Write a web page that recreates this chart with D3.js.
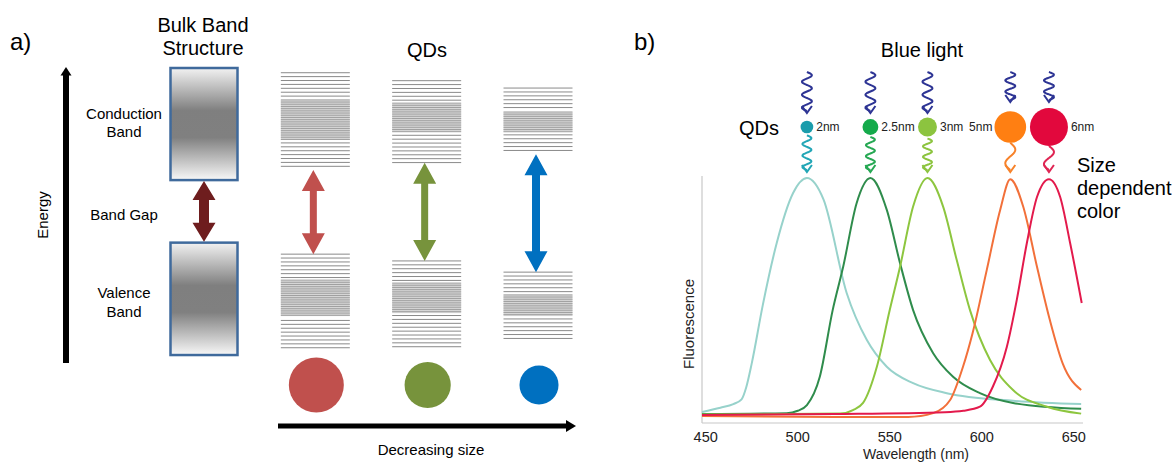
<!DOCTYPE html>
<html>
<head>
<meta charset="utf-8">
<script src="https://cdn.jsdelivr.net/npm/d3@7"></script>
<style>
body { margin: 0; background: #fff; }
svg { display: block; font-family: "Liberation Sans", Arial, sans-serif; }
</style>
</head>
<body>
<div id="chart"></div>
<script>
// ===== 数据 =====
// a) 能带结构，能量单位 0..100（底部到顶部）
const columns = ["bulk", "large", "medium", "small"];
const bulkConduction = [62, 100];
const bulkValence = [2.7, 40.8];
const qdConduction = [[65.4, 98.4], [67.9, 95.7], [70.8, 93.2]];
const qdConductionDense = [[75.6, 89.2], [78.3, 88.1], [78.3, 85.1]];
const qdValence = [[4.2, 36.9], [5.5, 34.6], [8.1, 30.8]];
const qdValenceDense = [[15.9, 28.1], [16.9, 27.1], [15.9, 23.1]];
const qdRelSize = [1.0, 0.84, 0.71];

// b) 荧光光谱
const qdLabels = ["2nm", "2.5nm", "3nm", "5nm", "6nm"];
const qdDiameter = [2, 2.5, 3, 5, 6];
const peakWavelength = [505, 539.5, 570.5, 615.5, 636.5];
const xTicks = [450, 500, 550, 600, 650];

const spectrum2nm = [[448, 0.017], [458, 0.035], [465, 0.05], [469.5, 0.07], [472, 0.12], [475, 0.22], [481, 0.465],
  [488.6, 0.727], [497.5, 0.937], [505, 1.0], [514, 0.91], [526.6, 0.517], [537.5, 0.32], [548.4, 0.207],
  [562.7, 0.138], [581, 0.096], [617, 0.064], [654, 0.05]];
const spectrum25nm = [[448, 0.008], [494, 0.012], [500, 0.022], [505, 0.046], [512, 0.165], [519, 0.445], [524.7, 0.627],
  [532, 0.894], [539.5, 1.0], [548.4, 0.866], [555.6, 0.642], [562.7, 0.445], [573.6, 0.264],
  [584.4, 0.165], [599, 0.096], [617, 0.055], [654, 0.03]];
const spectrum3nm = [[448, 0.006], [523, 0.01], [530, 0.025], [535.5, 0.055], [543, 0.207], [550, 0.445], [555.6, 0.627],
  [562.7, 0.88], [570.5, 1.0], [579, 0.88], [586.4, 0.655], [593.6, 0.445], [604.5, 0.235],
  [617, 0.109], [635.5, 0.039], [654, 0.01]];
const spectrum5nm = [[448, 0.0], [520, -0.004], [560, -0.004], [573.6, 0.012], [582.8, 0.067], [589.8, 0.207],
  [595, 0.348], [602.7, 0.613], [610, 0.866], [615.5, 0.995], [622.5, 0.88], [630, 0.627],
  [637, 0.403], [644, 0.22], [654, 0.109]];
const spectrum6nm = [[448, 0.004], [520, 0.008], [580, 0.016], [590, 0.022], [599, 0.039], [606, 0.123],
  [613.6, 0.29], [619, 0.487], [624.5, 0.727], [630, 0.92], [636.5, 0.995], [642.6, 0.92],
  [648, 0.727], [654.3, 0.475]];
const spectra = [spectrum2nm, spectrum25nm, spectrum3nm, spectrum5nm, spectrum6nm];

// 颜色
const qdColorsA = ["#c0504d", "#77933c", "#0070c0"];
const dotColors = ["#1a9cab", "#14aa4b", "#8cc43f", "#ff7f12", "#e2083d"];
const emitColors = ["#22a6b6", "#26a853", "#8cc43f", "#f7822a", "#df2553"];
const lineColors = ["#97d2cb", "#2f8c4c", "#8dc63f", "#f2703a", "#e31a4c"];
const labelSide = ["start", "start", "start", "end", "start"];
const blueWave = "#2d3494";

// ===== 画布 =====
const svg = d3.select("#chart").append("svg")
    .attr("width", 1174)
    .attr("height", 462);

// 渐变（体材料能带）
const grad = svg.append("defs").append("linearGradient")
    .attr("id", "bandGrad")
    .attr("x1", 0).attr("y1", 0).attr("x2", 0).attr("y2", 1);
grad.append("stop").attr("offset", "0%").attr("stop-color", "#f2f2f2");
grad.append("stop").attr("offset", "38%").attr("stop-color", "#7f7f7f");
grad.append("stop").attr("offset", "62%").attr("stop-color", "#808080");
grad.append("stop").attr("offset", "100%").attr("stop-color", "#f8f8f8");

// 双向粗箭头
function doubleArrow(cx, yTop, yBot, shaftW, headW, headL) {
    const s = shaftW / 2, h = headW / 2;
    return `M${cx},${yTop}L${cx + h},${yTop + headL}L${cx + s},${yTop + headL}` +
        `L${cx + s},${yBot - headL}L${cx + h},${yBot - headL}L${cx},${yBot}` +
        `L${cx - h},${yBot - headL}L${cx - s},${yBot - headL}L${cx - s},${yTop + headL}` +
        `L${cx - h},${yTop + headL}Z`;
}

// 波浪箭头
function wavePath(cx, y0, y1, amp, periods) {
    const n = 80;
    const pts = d3.range(n + 1).map(i => {
        const t = i / n;
        return [cx + amp * Math.sin(t * periods * 2 * Math.PI), y0 + t * (y1 - y0)];
    });
    return d3.line().curve(d3.curveBasis)(pts);
}
function chevron(cx, tip, w, h) {
    return `M${cx - w},${tip - h}L${cx},${tip}L${cx + w},${tip - h}`;
}

// ===== a) 能带示意图 =====
function drawPanelA() {
    const g = svg.append("g");
    const x = d3.scalePoint().domain(columns).range([204, 538]);
    const y = d3.scaleLinear().domain([0, 100]).range([363, 68]);
    const halfW = 34.5;

    g.append("text").attr("x", 10).attr("y", 50).style("font-size", "24px").text("a)");

    // 能量坐标轴
    g.append("rect").attr("x", 63).attr("y", y(98)).attr("width", 6).attr("height", y(0) - y(98)).attr("fill", "#000");
    g.append("path").attr("d", `M66,${y(100) - 1}L71.5,${y(97.5)}L60.5,${y(97.5)}Z`).attr("fill", "#000");
    g.append("text")
        .attr("transform", `translate(48, 215) rotate(-90)`)
        .attr("text-anchor", "middle")
        .style("font-size", "15px")
        .text("Energy");

    // 标题
    g.append("text").attr("x", 203).attr("y", 32).attr("text-anchor", "middle").style("font-size", "20px").text("Bulk Band");
    g.append("text").attr("x", 203).attr("y", 55).attr("text-anchor", "middle").style("font-size", "20px").text("Structure");
    g.append("text").attr("x", 427).attr("y", 57).attr("text-anchor", "middle").style("font-size", "20px").text("QDs");

    // 体材料能带
    [bulkConduction, bulkValence].forEach(b => {
        g.append("rect")
            .attr("x", x("bulk") - halfW + 1)
            .attr("y", y(b[1]))
            .attr("width", 2 * halfW - 2)
            .attr("height", y(b[0]) - y(b[1]))
            .attr("fill", "url(#bandGrad)")
            .attr("stroke", "#3f6a9c")
            .attr("stroke-width", 2.5);
    });
    g.append("path")
        .attr("d", doubleArrow(x("bulk"), y(bulkConduction[0]) + 1, y(bulkValence[1]) - 1, 10, 23, 19))
        .attr("fill", "#6e1d1e");

    const side = [["Conduction", 119], ["Band", 137], ["Band Gap", 220], ["Valence", 298], ["Band", 317]];
    side.forEach(d => {
        g.append("text").attr("x", 124).attr("y", d[1]).attr("text-anchor", "middle").style("font-size", "15px").text(d[0]);
    });

    // 量子点能级
    const qdCols = columns.slice(1);
    function levels(range, step) {
        return d3.range(y(range[1]), y(range[0]) + 0.01, step);
    }
    qdCols.forEach((c, i) => {
        const x0 = x(c) - halfW, x1 = x(c) + halfW;
        [[qdConduction[i], qdConductionDense[i]], [qdValence[i], qdValenceDense[i]]].forEach(([band, dense]) => {
            g.append("rect")
                .attr("x", x0).attr("y", y(dense[1]))
                .attr("width", x1 - x0).attr("height", y(dense[0]) - y(dense[1]))
                .attr("fill", "#d6d6d6");
            const sparse = levels(band, 3.9).filter(v => v < y(dense[1]) - 1 || v > y(dense[0]) + 1);
            g.selectAll(null).data(sparse).enter().append("line")
                .attr("x1", x0).attr("x2", x1)
                .attr("y1", d => d).attr("y2", d => d)
                .attr("stroke", "#8a8a8a").attr("stroke-width", 1);
            g.selectAll(null).data(levels(dense, 2.2)).enter().append("line")
                .attr("x1", x0).attr("x2", x1)
                .attr("y1", d => d).attr("y2", d => d)
                .attr("stroke", "#9a9a9a").attr("stroke-width", 0.9);
        });
        g.append("path")
            .attr("d", doubleArrow(x(c) - 2, y(qdConduction[i][0]), y(qdValence[i][1]), i === 2 ? 8 : 7, 23, 21))
            .attr("fill", qdColorsA[i]);
    });

    // 粒子大小
    const r = d3.scaleLinear().domain([0, 1]).range([0, 27.5]);
    g.selectAll(".particle").data(qdRelSize).enter().append("circle")
        .attr("class", "particle")
        .attr("cx", (d, i) => x(qdCols[i]) + 1)
        .attr("cy", 385)
        .attr("r", d => r(d))
        .attr("fill", (d, i) => qdColorsA[i]);

    // 尺寸减小箭头
    g.append("rect").attr("x", 278).attr("y", 423.5).attr("width", 290).attr("height", 5).attr("fill", "#000");
    g.append("path").attr("d", "M576,426L566,420L566,432Z").attr("fill", "#000");
    g.append("text").attr("x", 431).attr("y", 455).attr("text-anchor", "middle").style("font-size", "15px").text("Decreasing size");
}

// ===== b) 荧光光谱 =====
function drawPanelB() {
    const g = svg.append("g");
    const x = d3.scaleLinear().domain([448, 655]).range([702, 1083]);
    const y = d3.scaleLinear().domain([0, 1]).range([416, 178]);
    const r = d3.scaleLinear().domain([0, 6]).range([0, 19]);

    g.append("text").attr("x", 634).attr("y", 50).style("font-size", "24px").text("b)");
    g.append("text").attr("x", 922).attr("y", 57).attr("text-anchor", "middle").style("font-size", "20px").text("Blue light");
    g.append("text").attr("x", 739).attr("y", 135).style("font-size", "20px").text("QDs");
    ["Size", "dependent", "color"].forEach((t, i) => {
        g.append("text").attr("x", 1077).attr("y", 172 + i * 23).style("font-size", "20px").text(t);
    });

    // 坐标轴
    g.append("line").attr("x1", 702).attr("x2", 702).attr("y1", 176).attr("y2", 423)
        .attr("stroke", "#c8c8c8").attr("stroke-width", 1.2);
    g.append("line").attr("x1", 702).attr("x2", 1083).attr("y1", 423).attr("y2", 423)
        .attr("stroke", "#c8c8c8").attr("stroke-width", 1.2);
    g.selectAll(".tick").data(xTicks).enter().append("text")
        .attr("class", "tick")
        .attr("x", d => x(d))
        .attr("y", 442)
        .attr("text-anchor", "middle")
        .style("font-size", "14.5px")
        .attr("fill", "#222")
        .text(d => d);
    g.append("text").attr("x", 916).attr("y", 459).attr("text-anchor", "middle")
        .style("font-size", "14px").attr("fill", "#222").text("Wavelength (nm)");
    g.append("text")
        .attr("transform", "translate(694, 324) rotate(-90)")
        .attr("text-anchor", "middle")
        .style("font-size", "15px").attr("fill", "#222")
        .text("Fluorescence");

    // 光谱曲线
    const line = d3.line()
        .x(d => x(d[0]))
        .y(d => y(d[1]))
        .curve(d3.curveMonotoneX);
    g.selectAll(".spec").data(spectra).enter().append("path")
        .attr("class", "spec")
        .attr("fill", "none")
        .attr("stroke", (d, i) => lineColors[i])
        .attr("stroke-width", 2)
        .attr("d", line);

    // 量子点 + 激发/发射波浪线
    const dotY = 127;
    qdDiameter.forEach((dia, i) => {
        const cx = x(peakWavelength[i]);
        const rad = r(dia);
        const big = dia >= 5;
        // 蓝光激发
        const tipIn = big ? 102 : 113;
        g.append("path").attr("d", wavePath(cx, 72, tipIn - 2, 5, big ? 2.5 : 3))
            .attr("fill", "none").attr("stroke", blueWave).attr("stroke-width", 2);
        g.append("path").attr("d", chevron(cx, tipIn, 5, 7))
            .attr("fill", "none").attr("stroke", blueWave).attr("stroke-width", 2);
        // 发射
        const start = dotY + rad + (big ? 0 : 2);
        g.append("path").attr("d", wavePath(cx, start, 170, big ? 5 : 4.5, big ? 1 : 3))
            .attr("fill", "none").attr("stroke", emitColors[i]).attr("stroke-width", 2);
        g.append("path").attr("d", chevron(cx, 172, 5, 7))
            .attr("fill", "none").attr("stroke", emitColors[i]).attr("stroke-width", 2);
        // 点
        g.append("circle").attr("cx", cx).attr("cy", dotY).attr("r", rad).attr("fill", dotColors[i]);
        // 标签
        g.append("text")
            .attr("x", labelSide[i] === "end" ? cx - rad - 2 : cx + rad + 3)
            .attr("y", 131)
            .attr("text-anchor", labelSide[i])
            .style("font-size", "12px")
            .attr("fill", "#222")
            .text(qdLabels[i]);
    });
}

drawPanelA();
drawPanelB();
</script>
</body>
</html>
